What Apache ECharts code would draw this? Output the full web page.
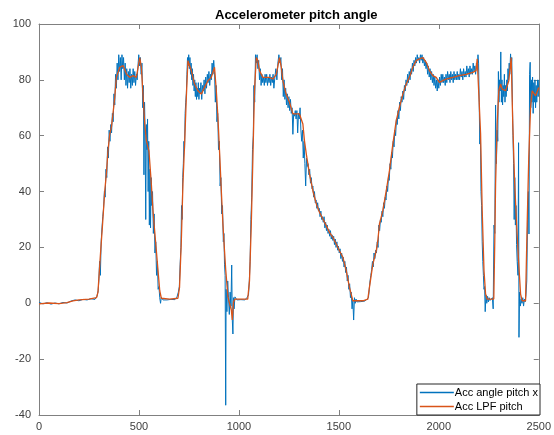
<!DOCTYPE html>
<html>
<head>
<meta charset="utf-8">
<script src="https://cdn.jsdelivr.net/npm/echarts@6/dist/echarts.min.js"></script>
<style>
  html, body { margin: 0; padding: 0; background: #fff; }
  #chart { width: 554px; height: 435px; }
</style>
</head>
<body>
<div id="chart"></div>
<script>
// series names
const seriesNames = ['Acc angle pitch x', 'Acc LPF pitch']

// raw accelerometer pitch, [sample, degrees]
const rawPitch = [
  [0, 0.3], [20, -0.2], [40, 0.2], [60, -0.3], [80, 0.1], [100, -0.2], [120, 0.3], [140, 0.1], [160, 0.8],
  [180, 1.2], [200, 0.9], [220, 1.4], [240, 1.2], [260, 1.6], [280, 1.4], [290, 2.5], [296, 4.5], [300, 9],
  [303, 15], [307, 10], [311, 22], [315, 27], [319, 31], [323, 34], [327, 40], [331, 38], [335, 48], [339, 45],
  [343, 56], [347, 52], [351, 62], [355, 58], [359, 64], [363, 61], [367, 68], [371, 65], [375, 75], [379, 71],
  [383, 82], [387, 77], [391, 86], [395, 80], [399, 89], [403, 83], [407, 88], [411, 80], [415, 89], [419, 84],
  [423, 88], [427, 80], [431, 86], [435, 78], [439, 84], [443, 77], [447, 83], [451, 79], [455, 84], [459, 77],
  [463, 82], [467, 78], [471, 84], [475, 79], [479, 83], [483, 78], [487, 82], [491, 80], [495, 85], [499, 89],
  [503, 85], [507, 88], [511, 82], [515, 86], [519, 70], [522, 78], [525, 46], [528, 72], [531, 60], [534, 30],
  [537, 64], [540, 55], [543, 66], [546, 40], [549, 58], [552, 28], [555, 48], [558, 27], [561, 45], [564, 35],
  [568, 40], [572, 25], [576, 32], [580, 18], [584, 22], [588, 10], [592, 15], [596, 5], [600, 6], [604, 2],
  [608, 0], [612, 2.2], [620, 1.2], [630, 1.8], [640, 1.2], [650, 1.9], [660, 1.4], [670, 1.7], [680, 1.3],
  [690, 2.2], [697, 4], [702, 6], [706, 14], [710, 20], [713, 35], [716, 30], [719, 45], [722, 50], [725, 58],
  [728, 55], [731, 68], [734, 72], [737, 75], [740, 82], [743, 88], [746, 85], [749, 89], [752, 84], [755, 88],
  [758, 82], [761, 86], [764, 80], [767, 84], [770, 78], [773, 82], [776, 76], [779, 80], [782, 74], [785, 79],
  [788, 73], [791, 77], [794, 74], [797, 79], [800, 73], [803, 77], [806, 75], [810, 79], [814, 73], [818, 78],
  [822, 76], [826, 80], [830, 75], [834, 81], [838, 77], [842, 82], [846, 79], [850, 83], [854, 78], [858, 82],
  [862, 80], [866, 86], [870, 82], [874, 87], [878, 83], [882, 72], [886, 78], [890, 65], [894, 68], [898, 55],
  [902, 58], [906, 42], [910, 45], [914, 32], [918, 35], [922, 22], [925, 25], [928, 14], [931, 10], [934, -36.5],
  [936, 5], [940, -3], [944, 8], [948, 2], [952, -4], [956, 4], [960, -1], [964, 13.7], [967, -6], [970, -11],
  [973, 2], [976, -2], [980, 2.3], [990, 1.2], [1000, 1.9], [1010, 1.3], [1020, 1.8], [1030, 1.2], [1040, 2],
  [1048, 3], [1052, 8], [1056, 15], [1060, 30], [1064, 38], [1068, 55], [1072, 60], [1075, 78], [1079, 72],
  [1083, 89], [1087, 86], [1091, 89], [1095, 84], [1099, 87], [1103, 80], [1107, 84], [1111, 78], [1115, 82],
  [1119, 79], [1123, 81], [1127, 78], [1131, 82], [1135, 79], [1139, 82], [1143, 78], [1147, 81], [1151, 79],
  [1155, 82], [1159, 78], [1163, 81], [1167, 79], [1171, 82], [1175, 77], [1180, 81], [1185, 84], [1190, 80],
  [1195, 86], [1200, 89], [1205, 86], [1210, 88], [1214, 80], [1218, 84], [1222, 74], [1226, 80], [1230, 73],
  [1234, 77], [1238, 71], [1242, 75], [1246, 70], [1250, 74], [1254, 69], [1258, 73], [1262, 68], [1266, 70],
  [1270, 60.5], [1274, 68], [1278, 67], [1282, 69], [1286, 66], [1290, 69], [1294, 61], [1298, 68], [1302, 66],
  [1306, 70], [1310, 62], [1314, 58], [1318, 62], [1322, 52], [1326, 58], [1330, 50], [1334, 42], [1338, 52],
  [1342, 49], [1346, 50], [1350, 46], [1354, 48], [1358, 43], [1362, 45], [1366, 41], [1370, 42], [1374, 38],
  [1378, 40], [1382, 36], [1386, 37], [1390, 34], [1394, 36], [1398, 33], [1402, 34], [1406, 31], [1410, 33],
  [1414, 30], [1418, 31], [1422, 29], [1426, 31], [1430, 27], [1434, 29], [1438, 26], [1442, 28], [1446, 25],
  [1450, 26.5], [1454, 24], [1458, 26], [1462, 23], [1466, 24.5], [1470, 22.5], [1474, 24], [1478, 21],
  [1482, 23], [1486, 20], [1490, 22], [1494, 19], [1498, 20.5], [1502, 18], [1506, 19.5], [1510, 16],
  [1514, 18], [1518, 15], [1522, 16.5], [1526, 13], [1530, 15], [1534, 11], [1538, 13], [1542, 8], [1546, 10],
  [1550, 5], [1554, 7], [1558, 2], [1562, 4], [1566, -2], [1570, 1], [1574, -6], [1578, 2], [1582, 0],
  [1586, 1.5], [1590, 0.5], [1600, 1.2], [1610, 0.6], [1620, 1.2], [1630, 0.8], [1640, 1.5], [1648, 2],
  [1652, 5], [1656, 8], [1660, 10], [1664, 12], [1668, 15], [1672, 13], [1676, 18], [1680, 16], [1684, 19],
  [1688, 18], [1692, 22], [1696, 20], [1700, 28], [1704, 26], [1708, 30], [1712, 29], [1716, 33], [1720, 31],
  [1724, 36], [1728, 34], [1732, 38], [1736, 37], [1740, 42], [1744, 40], [1748, 45], [1752, 44], [1756, 50],
  [1760, 48], [1764, 54], [1768, 52], [1772, 58], [1776, 56], [1780, 62], [1784, 60], [1788, 66], [1792, 64],
  [1796, 69], [1800, 66], [1804, 72], [1808, 69], [1812, 74], [1816, 72], [1820, 76], [1824, 73], [1828, 78],
  [1832, 76], [1836, 80], [1840, 78], [1844, 82], [1848, 79], [1852, 83], [1856, 80], [1860, 84], [1864, 82],
  [1868, 86], [1872, 83], [1876, 87], [1880, 85], [1884, 88], [1888, 86], [1892, 89], [1896, 87], [1900, 88],
  [1904, 86], [1908, 89], [1912, 87], [1916, 89], [1920, 86], [1924, 88], [1928, 85], [1932, 87], [1936, 84],
  [1940, 86], [1944, 82], [1948, 85], [1952, 81], [1956, 84], [1960, 80], [1964, 83], [1968, 79], [1972, 82],
  [1976, 78], [1980, 81], [1984, 77], [1988, 80], [1992, 76], [1996, 80], [2000, 77], [2004, 81], [2008, 78],
  [2012, 82], [2016, 79], [2020, 82], [2024, 79], [2028, 81], [2032, 78], [2036, 82], [2040, 79], [2044, 83],
  [2048, 80], [2052, 82], [2056, 79], [2060, 83], [2064, 80], [2068, 82], [2072, 79], [2076, 83], [2080, 80],
  [2084, 82], [2088, 80], [2092, 83], [2096, 80], [2100, 82], [2104, 80], [2108, 84], [2112, 81], [2116, 83],
  [2120, 80], [2124, 84], [2128, 81], [2132, 83], [2136, 81], [2140, 85], [2144, 82], [2148, 84], [2152, 81],
  [2156, 85], [2160, 82], [2164, 84], [2168, 82], [2172, 86], [2176, 83], [2180, 85], [2184, 82], [2188, 86],
  [2192, 84], [2196, 89], [2199, 86], [2202, 72], [2205, 57], [2208, 62], [2211, 40], [2214, 35], [2217, 22],
  [2220, 15], [2223, 10], [2226, 5], [2229, 6], [2232, -3], [2236, 3], [2240, 0], [2244, 2.5], [2248, 0.5],
  [2252, 2], [2256, 1], [2260, 1.5], [2264, 0.5], [2268, 2], [2272, -2], [2276, 28], [2280, 25], [2284, 71],
  [2288, 50], [2292, 62], [2295, 58], [2298, 83], [2301, 72], [2304, 80], [2307, 76], [2310, 90], [2313, 72],
  [2316, 80], [2319, 71], [2322, 78], [2325, 74], [2328, 82], [2331, 72], [2334, 78], [2337, 74], [2340, 80],
  [2343, 76], [2346, 84], [2349, 80], [2352, 86], [2355, 82], [2359, 89.3], [2362, 84], [2365, 88], [2368, 72],
  [2371, 60], [2374, 50], [2377, 30], [2380, 45], [2383, 28], [2386, 35], [2389, 21], [2392, 15], [2396, 10],
  [2399, 57.5], [2401, -12.2], [2404, 4], [2408, -1], [2412, 1.5], [2416, 0], [2420, 2], [2424, -1],
  [2428, 1.5], [2432, 0.5], [2436, 3], [2440, 8], [2444, 30], [2448, 40], [2451, 24.8], [2454, 82],
  [2457, 86.3], [2460, 70], [2463, 80], [2466, 72], [2469, 81], [2472, 68], [2475, 79], [2478, 72], [2481, 80],
  [2484, 70], [2487, 78], [2490, 72], [2494, 80], [2497, 74], [2500, 80]
]

// low-pass filtered pitch
const lpfPitch = [
  [0, -0.2], [50, 0.1], [100, -0.1], [140, 0.2], [170, 0.9], [200, 1.2], [250, 1.5], [288, 2], [295, 4],
  [305, 15], [318, 28.4], [329, 40.3], [337, 46.3], [345, 54.6], [354, 60.6], [362, 63], [370, 67.8],
  [379, 73.8], [387, 80.9], [404, 84.5], [421, 85.1], [438, 82], [454, 80.9], [471, 81.5], [487, 80.9],
  [504, 88], [512, 84.5], [521, 73.8], [529, 64.2], [537, 58.2], [550, 54.6], [562, 42.7], [570, 33.2],
  [587, 18.8], [604, 4.5], [612, 1.8], [654, 1.5], [695, 1.8], [703, 5.7], [712, 22.4], [720, 42.7],
  [729, 58.2], [737, 73.8], [745, 86.9], [753, 87.5], [762, 83.3], [778, 78.5], [795, 76.1], [812, 74.9],
  [828, 77.3], [845, 79.7], [862, 80.9], [878, 84.5], [887, 76.1], [895, 66.6], [903, 54.6], [912, 40.3],
  [920, 28.4], [928, 18.8], [934, 12], [945, 2.4], [953, 0], [962, -2.4], [967, -6], [973, 0.5], [980, 1.5],
  [1044, 1.5], [1053, 8.1], [1062, 28.4], [1070, 52.2], [1078, 76.1], [1087, 88], [1095, 86.9], [1103, 83.3],
  [1120, 80.9], [1137, 80.9], [1153, 80.9], [1170, 80.3], [1187, 82], [1203, 88], [1212, 84.5], [1220, 79.7],
  [1236, 74.9], [1253, 72], [1270, 67.8], [1287, 67.8], [1303, 67.8], [1320, 64.2], [1328, 58.2], [1337, 53.5],
  [1353, 46.3], [1370, 40.3], [1387, 35.6], [1403, 32.6], [1420, 30.2], [1437, 27.8], [1453, 25.4],
  [1470, 23.6], [1487, 21.2], [1503, 18.8], [1520, 16.5], [1537, 11.7], [1553, 5.7], [1570, 0.9], [1587, 0.9],
  [1603, 0.9], [1620, 0.9], [1645, 1.5], [1653, 5.7], [1670, 14], [1687, 18.8], [1695, 22.4], [1703, 28.4],
  [1720, 33.2], [1737, 40.3], [1753, 47.5], [1770, 57], [1787, 65.4], [1803, 70.2], [1820, 74.9], [1837, 78.5],
  [1853, 80.9], [1870, 84.5], [1887, 86.9], [1903, 87.5], [1920, 88], [1937, 86.3], [1953, 83.3], [1970, 81.5],
  [1987, 80.9], [2003, 79.1], [2020, 79.7], [2036, 80.3], [2070, 80.9], [2103, 81.5], [2136, 82], [2170, 82.7],
  [2186, 83.3], [2192, 87.5], [2200, 75], [2209, 60.6], [2217, 33.2], [2226, 11.7], [2234, 3.3], [2242, 1.5],
  [2275, 1.5], [2280, 22.4], [2284, 42.7], [2292, 64.2], [2300, 76.1], [2309, 78.5], [2317, 76.7],
  [2334, 76.1], [2350, 79.7], [2362, 88], [2370, 64.2], [2379, 43.9], [2389, 28.4], [2400, 14], [2409, 3.3],
  [2417, 0.9], [2434, 0.9], [2442, 28.4], [2450, 52.2], [2459, 70.2], [2467, 76.1], [2484, 74.3], [2500, 77.3]
]

// axis ranges and ticks
const xRange = [0, 2500]
const xStep = 500
const yRange = [-40, 100]
const yStep = 20

let axisColor = '#808080'
let font = 'Liberation Sans, Arial, sans-serif'

let chart = echarts.init(document.getElementById('chart'), null, { renderer: 'canvas' })

// one axis pair draws labels, the other pair closes the box with ticks only
function makeAxis (range, step, pos, showLabels, margin) {
  return {
    type: 'value',
    position: pos,
    min: range[0],
    max: range[1],
    interval: step,
    axisLine: { show: true, onZero: false, lineStyle: { color: axisColor, width: 1 } },
    axisTick: { show: true, inside: true, length: 5, lineStyle: { color: axisColor } },
    axisLabel: {
      show: showLabels,
      color: '#404040',
      fontSize: 11,
      fontFamily: font,
      margin: margin,
      formatter: v => String(v)
    },
    splitLine: { show: false }
  }
}

chart.setOption({
  animation: false,
  title: {
    text: 'Accelerometer pitch angle',
    left: 210,
    top: 4,
    textStyle: { fontSize: 13, fontWeight: 'bold', color: '#000', fontFamily: font }
  },
  grid: { left: 39, right: 14, top: 24, bottom: 20, containLabel: false },
  legend: {
    data: seriesNames,
    orient: 'vertical',
    right: 14,
    bottom: 20,
    icon: 'rect',
    itemWidth: 34,
    itemHeight: 1.5,
    itemGap: 3,
    padding: [3, 2, 3, 3],
    backgroundColor: '#fff',
    borderColor: '#262626',
    borderWidth: 1,
    borderRadius: 0,
    textStyle: { fontSize: 11, color: '#000', fontFamily: font, padding: [0, 0, 0, -4] }
  },
  xAxis: [
    makeAxis(xRange, xStep, 'bottom', true, 6),
    makeAxis(xRange, xStep, 'top', false, 6)
  ],
  yAxis: [
    makeAxis(yRange, yStep, 'left', true, 8),
    makeAxis(yRange, yStep, 'right', false, 8)
  ],
  series: [
    {
      name: seriesNames[0],
      type: 'line',
      data: rawPitch,
      showSymbol: false,
      symbol: 'none',
      color: '#0072BD',
      lineStyle: { width: 1, color: '#0072BD' }
    },
    {
      name: seriesNames[1],
      type: 'line',
      data: lpfPitch,
      showSymbol: false,
      symbol: 'none',
      color: '#D95319',
      lineStyle: { width: 1.3, color: '#D95319' }
    }
  ]
})
</script>
</body>
</html>
